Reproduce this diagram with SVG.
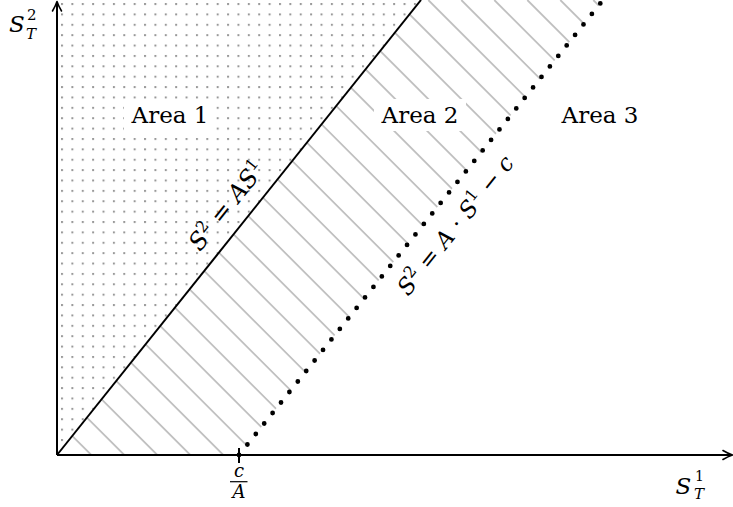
<svg xmlns="http://www.w3.org/2000/svg" width="733" height="507" viewBox="0 0 733 507">
<style>
text{font-family:"DejaVu Serif","Liberation Serif",serif;fill:#000}
.i{font-style:italic}
.ax{stroke:#000;stroke-width:2;fill:none}
.ah{stroke:#000;stroke-width:1.6;fill:none;stroke-linecap:round;stroke-linejoin:round}
</style>
<defs>
<pattern id="dots" patternUnits="userSpaceOnUse" x="61" y="439" width="10.38" height="10.38">
<rect x="0" y="0" width="2" height="2" fill="#999999"/>
</pattern>
<clipPath id="hatchClip"><polygon points="57,455 421,0 603,0 239,455"/></clipPath>
</defs>
<g id="area1-fill">
<polygon points="57,455 421,0 57,0" fill="url(#dots)"/>
</g>
<g id="area2-fill" clip-path="url(#hatchClip)">
<path stroke="#c0c0c0" stroke-width="1.8" fill="none" d="M593.3,0L1048.3,455M560.3,0L1015.3,455M527.3,0L982.3,455M494.3,0L949.3,455M461.3,0L916.3,455M428.3,0L883.3,455M395.3,0L850.3,455M362.3,0L817.3,455M329.3,0L784.3,455M296.3,0L751.3,455M263.3,0L718.3,455M230.3,0L685.3,455M197.3,0L652.3,455M164.3,0L619.3,455M131.3,0L586.3,455M98.3,0L553.3,455M65.3,0L520.3,455M32.3,0L487.3,455M-0.7,0L454.3,455M-33.7,0L421.3,455M-66.7,0L388.3,455M-99.7,0L355.3,455M-132.7,0L322.3,455M-165.7,0L289.3,455M-198.7,0L256.3,455M-231.7,0L223.3,455M-264.7,0L190.3,455M-297.7,0L157.3,455M-330.7,0L124.3,455M-363.7,0L91.3,455"/>
</g>
<g id="connectors">
<line class="ax" x1="57" y1="455" x2="421" y2="0"/>
<line x1="239" y1="455" x2="603" y2="0" stroke="#000" stroke-width="4.8" stroke-linecap="round" stroke-dasharray="0 13.45"/>
<line class="ax" x1="57" y1="455" x2="57" y2="2"/>
<path class="ah" d="M52.5,11 Q55.5,6 57,1.5 Q58.5,6 61.5,11"/>
<line class="ax" x1="57" y1="455" x2="731" y2="455"/>
<path class="ah" d="M723,450.5 Q728,453.5 732.5,455 Q728,456.5 723,459.5"/>
<line class="ax" x1="239" y1="448" x2="239" y2="463"/>
</g>
<g id="area1">
<rect x="124" y="99" width="92" height="32" fill="#fff"/>
<text x="170" y="123.3" font-size="23" text-anchor="middle">Area 1</text>
</g>
<g id="area2">
<rect x="374" y="99" width="92" height="32" fill="#fff"/>
<text x="420" y="123.3" font-size="23" text-anchor="middle">Area 2</text>
</g>
<g id="area3">
<text x="600" y="123.3" font-size="23" text-anchor="middle">Area 3</text>
</g>
<g id="label-solid">
<text font-size="24" text-anchor="middle" transform="translate(233,210.8) rotate(-51.34)" xml:space="preserve"><tspan class="i">S</tspan><tspan font-size="16" dy="-9">2</tspan><tspan dy="9"> = </tspan><tspan class="i">AS</tspan><tspan font-size="16" dy="-9">1</tspan></text>
</g>
<g id="label-dotted">
<text font-size="23" text-anchor="middle" transform="translate(461.7,230.2) rotate(-51.34)" xml:space="preserve"><tspan class="i">S</tspan><tspan font-size="16" dy="-9">2</tspan><tspan dy="9"> = </tspan><tspan class="i">A</tspan><tspan> · </tspan><tspan class="i">S</tspan><tspan font-size="16" dy="-9">1</tspan><tspan dy="9"> − </tspan><tspan class="i">c</tspan></text>
</g>
<g id="y-label">
<text x="9" y="31.7" font-size="23"><tspan class="i">S</tspan><tspan font-size="15" x="27" y="20">2</tspan><tspan class="i" font-size="15" x="26" y="38.5">T</tspan></text>
</g>
<g id="x-label">
<text x="675.5" y="494" font-size="23"><tspan class="i">S</tspan><tspan font-size="14" x="695" y="480.5">1</tspan><tspan class="i" font-size="15" x="694" y="499">T</tspan></text>
</g>
<g id="tick-label">
<text class="i" x="239" y="477" font-size="18" text-anchor="middle">c</text>
<line x1="230" y1="481.7" x2="247.5" y2="481.7" stroke="#000" stroke-width="1.2"/>
<text class="i" x="239" y="498" font-size="18" text-anchor="middle">A</text>
</g>
</svg>
